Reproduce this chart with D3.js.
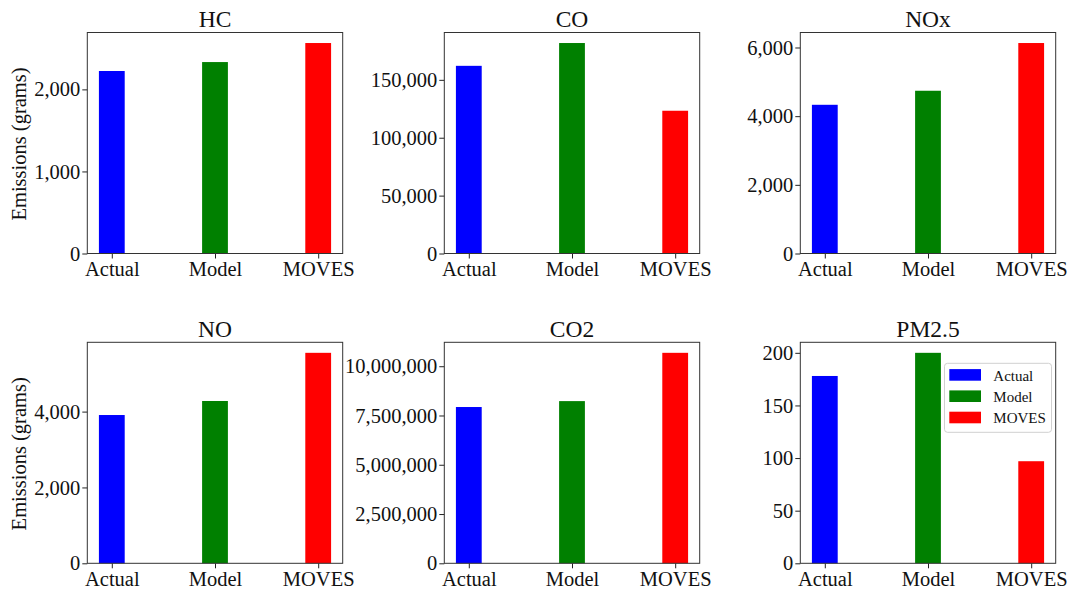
<!DOCTYPE html>
<html><head><meta charset="utf-8">
<script src="https://cdn.jsdelivr.net/npm/d3@7"></script>
<style>
body{margin:0;background:#fff;}
text{font-family:"Liberation Serif","Times New Roman",serif;}
</style></head>
<body><svg id="c" width="1070" height="590"></svg>
<script>
const categories = ["Actual", "Model", "MOVES"];
const colors = ["#0000ff", "#008000", "#ff0000"];
const pollutants = ["HC", "CO", "NOx", "NO", "CO2", "PM2.5"];
const hcValues = [2224, 2333, 2565];
const coValues = [162100, 181800, 123300];
const noxValues = [4331, 4740, 6130];
const noValues = [3910, 4280, 5550];
const co2Values = [7930000, 8230000, 10680000];
const pm25Values = [178, 200, 97];
const hcTicks = [0, 1000, 2000];
const coTicks = [0, 50000, 100000, 150000];
const noxTicks = [0, 2000, 4000, 6000];
const noTicks = [0, 2000, 4000];
const co2Ticks = [0, 2500000, 5000000, 7500000, 10000000];
const pm25Ticks = [0, 50, 100, 150, 200];

const series = [hcValues, coValues, noxValues, noValues, co2Values, pm25Values];
const ticks = [hcTicks, coTicks, noxTicks, noTicks, co2Ticks, pm25Ticks];

const svg = d3.select("#c");
const lefts = [87.3, 444.3, 800.3];
const tops = [32.5, 342.3];
const W = 255.4, H = 221;
const barW = 0.25;
const fmt = d3.format(",");
const FONT = '"Liberation Serif","Times New Roman",serif';

pollutants.forEach((p, i) => {
  const col = i % 3, row = Math.floor(i / 3);
  const g = svg.append("g").attr("transform", `translate(${lefts[col]},${tops[row]})`);
  const vals = series[i];
  const x = d3.scaleLinear().domain([-barW/2 - 0.05*(2+barW), 2 + barW/2 + 0.05*(2+barW)]).range([0, W]);
  const y = d3.scaleLinear().domain([0, d3.max(vals) * 1.05]).range([H, 0]);

  g.selectAll("rect.bar").data(vals).join("rect")
    .attr("class", "bar")
    .attr("x", (d, j) => x(j - barW/2))
    .attr("width", (d, j) => x(j + barW/2) - x(j - barW/2))
    .attr("y", d => y(d))
    .attr("height", d => H - y(d))
    .attr("fill", (d, j) => colors[j]);

  const yAxis = g.append("g").call(d3.axisLeft(y).tickValues(ticks[i]).tickFormat(fmt).tickSize(5).tickPadding(2));
  const xAxis = g.append("g").attr("transform", `translate(0,${H})`)
    .call(d3.axisBottom(x).tickValues([0, 1, 2]).tickFormat(j => categories[j]).tickSize(5).tickPadding(3));
  [yAxis, xAxis].forEach(a => {
    a.attr("font-family", FONT);
    a.select(".domain").remove();
    a.selectAll("line").attr("stroke", "#222");
    a.selectAll("text").attr("font-size", 20.5).attr("fill", "#111");
  });
  g.append("rect").attr("x", 0).attr("y", 0).attr("width", W).attr("height", H)
    .attr("fill", "none").attr("stroke", "#333").attr("stroke-width", 1);

  g.append("text").attr("x", W/2).attr("y", -5.5).attr("text-anchor", "middle")
    .attr("font-size", 23.5).attr("fill", "#111").text(p);

  if (col === 0) {
    g.append("text").attr("transform", `translate(${-61.3},${H/2 + 1}) rotate(-90)`)
      .attr("text-anchor", "middle").attr("font-size", 20.5).attr("fill", "#111")
      .text("Emissions (grams)");
  }

  if (i === 5) {
    const lg = g.append("g").attr("transform", `translate(${944.5 - lefts[col]},${363.3 - tops[row]})`);
    lg.append("rect").attr("width", 107).attr("height", 69).attr("rx", 3)
      .attr("fill", "#fff").attr("fill-opacity", 0.8).attr("stroke", "#d0d0d0");
    categories.forEach((c, j) => {
      lg.append("rect").attr("x", 4.8).attr("y", 5.8 + j * 21.3).attr("width", 31.7).attr("height", 11.6)
        .attr("fill", colors[j]);
      lg.append("text").attr("x", 48.8).attr("y", 17.4 + j * 21.3).attr("font-size", 15)
        .attr("fill", "#111").text(c);
    });
  }
});
</script></body></html>
